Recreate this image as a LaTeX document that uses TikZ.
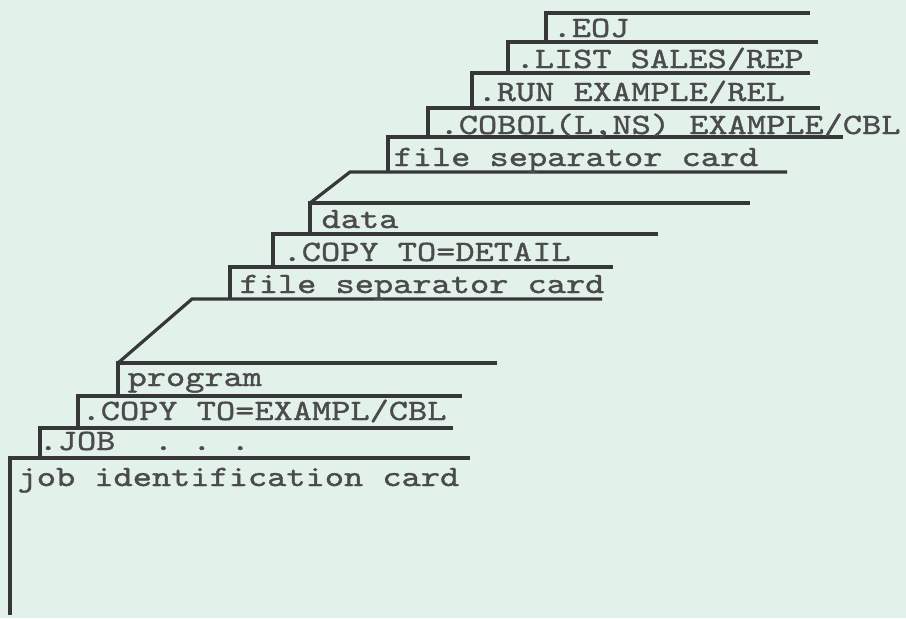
\documentclass[tikz,border=0pt]{standalone}
\usepackage{fontspec}
\newfontfamily\typer{lmmono10-regular.otf}[FakeStretch=1.24, FakeBold=1.2]
\usepackage{tikz}
\definecolor{paper}{RGB}{226,241,233}
\definecolor{ink}{RGB}{55,55,55}

\begin{document}
\begin{tikzpicture}[x=0.5pt, y=-0.5pt, line width=1.6pt, color=ink]
   \fill[paper] (0,0) rectangle (906,618);
   \useasboundingbox (0,0) rectangle (906,618);
   % second file: job control cards
   \draw (546,42) |- (810,13);
   \draw (508,73) |- (818,42);
   \draw (472,108) |- (810,73);
   \draw (428,137) |- (820,108);
   \draw (388,172) |- (843,137);
   \draw (787,172) -- (350,172) -- (310,203);
   % data file
   \draw (310,234) |- (750,203);
   \draw (273,267) |- (658,234);
   \draw (230,299) |- (613,267);
   \draw (602,299) -- (192,299) -- (118,363);
   % program file
   \draw (118,396) |- (497,363);
   \draw (78,428) |- (462,396);
   \draw (40,458) |- (453,428);
   \draw (10,615) |- (470,458);
   \begin{scope}[every node/.style={anchor=base west, inner sep=0pt, text=ink!90, font=\typer\fontsize{14.75}{16}\selectfont}]
    \node (eoj) at (551,37) {.EOJ};
    \node (list) at (514,68) {.LIST SALES/REP};
    \node (run) at (476,101) {.RUN EXAMPLE/REL};
    \node (cobol) at (438,134) {.COBOL(L,NS) EXAMPLE/CBL};
    \node (sep1) at (392,166) {file separator card};
    \node (data) at (320,228) {data};
    \node (copyd) at (281,261) {.COPY TO=DETAIL};
    \node (sep2) at (238,293) {file separator card};
    \node (prog) at (126,386) {program};
    \node (copyp) at (80,420) {.COPY TO=EXAMPL/CBL};
    \node (job) at (37,450) {.JOB\ \ .\ .\ .};
    \node (jobid) at (16,486) {job identification card};
   \end{scope}
\end{tikzpicture}
\end{document}
